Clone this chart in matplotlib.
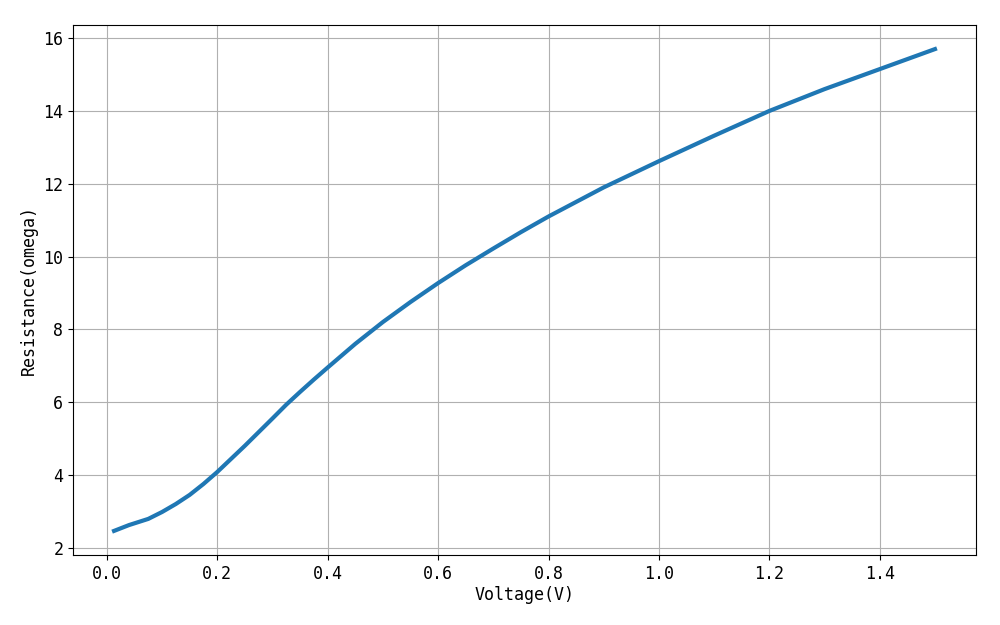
import matplotlib
matplotlib.use('Agg')
import matplotlib.pyplot as plt

# Values
voltage = [0.013, 0.04, 0.075, 0.1, 0.125, 0.15, 0.175, 0.2, 0.25, 0.3, 0.325,
           0.35, 0.375, 0.4, 0.45, 0.5, 0.55, 0.6, 0.65, 0.7, 0.75, 0.8, 0.9,
           1.0, 1.1, 1.2, 1.3, 1.4, 1.5]
resistance = [2.46, 2.62, 2.79, 2.98, 3.2, 3.45, 3.75, 4.08, 4.8, 5.55, 5.93,
              6.28, 6.62, 6.95, 7.6, 8.2, 8.75, 9.27, 9.76, 10.22, 10.67, 11.1, 11.9,
              12.62, 13.32, 14.0, 14.6, 15.15, 15.7]

plt.rcParams['font.family'] = ['DejaVu Sans Mono']
plt.rcParams['font.size'] = 12
plt.rcParams['axes.unicode_minus'] = False

fig, ax = plt.subplots(figsize=(10, 6.25), dpi=100)
ax.plot(voltage, resistance, linewidth=3, color='#1f77b4')

ax.set_xlabel('Voltage(V)', labelpad=2)
ax.set_ylabel('Resistance(omega)', labelpad=4)
ax.grid(True)

plt.subplots_adjust(left=0.073, right=0.976, top=0.96, bottom=0.112)
plt.savefig('out.png', dpi=100)
plt.close()
